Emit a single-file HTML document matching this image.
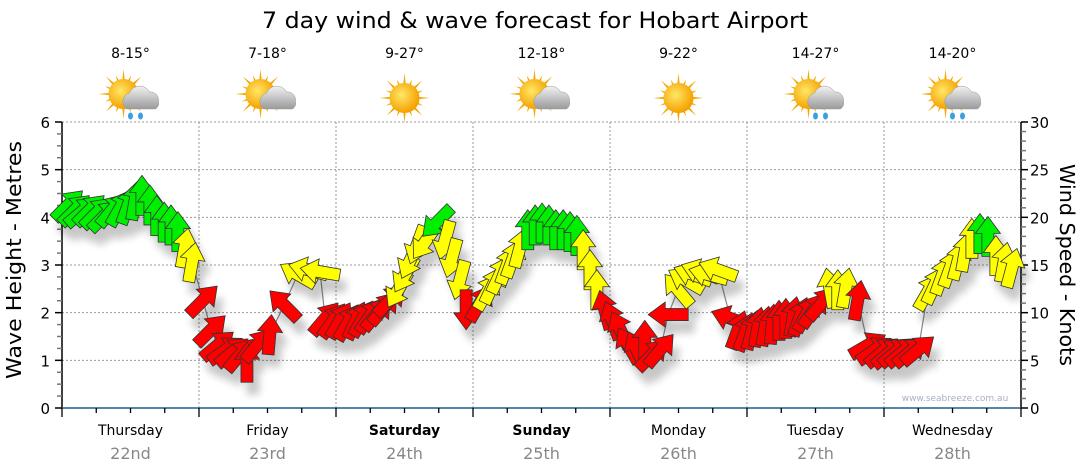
<!DOCTYPE html>
<html><head><meta charset="utf-8">
<style>
html,body{margin:0;padding:0;background:#fff;}
svg{display:block;font-family:"DejaVu Sans","Liberation Sans",Arial,sans-serif;}
</style></head>
<body>
<svg id="chart" width="1080" height="475" viewBox="0 0 1080 475" xmlns="http://www.w3.org/2000/svg">
<defs>
<filter id="sh" x="-50%" y="-50%" width="200%" height="200%">
<feGaussianBlur in="SourceAlpha" stdDeviation="4"/>
<feOffset dx="6" dy="12" result="o"/>
<feComponentTransfer><feFuncA type="linear" slope="0.22"/></feComponentTransfer>
<feMerge><feMergeNode/><feMergeNode in="SourceGraphic"/></feMerge>
</filter>
<radialGradient id="sunG" cx="0.4" cy="0.4" r="0.6"><stop offset="0" stop-color="#ffe866"/><stop offset="1" stop-color="#f5a000"/></radialGradient>
<linearGradient id="cloudG" x1="0" y1="0" x2="0" y2="1"><stop offset="0" stop-color="#f2f2f2"/><stop offset="1" stop-color="#9a9a9a"/></linearGradient>
</defs>
<text x="535" y="28" font-size="22" text-anchor="middle" textLength="546" lengthAdjust="spacingAndGlyphs" fill="#000">7 day wind &amp; wave forecast for Hobart Airport</text>
<g id="grid"></g>
<g id="axes"></g>
<g id="icons"></g>
<g id="series"></g>
<text x="955" y="401" font-size="9" text-anchor="middle" fill="#a8b0c0">www.seabreeze.com.au</text>
<text transform="translate(21,260) rotate(-90)" font-size="20" text-anchor="middle" textLength="238" lengthAdjust="spacingAndGlyphs" fill="#000">Wave Height - Metres</text>
<text transform="translate(1060,265) rotate(90)" font-size="20" text-anchor="middle" textLength="202" lengthAdjust="spacingAndGlyphs" fill="#000">Wind Speed - Knots</text>
</svg>
<script>
const dayNames=["Thursday","Friday","Saturday","Sunday","Monday","Tuesday","Wednesday"];
const dayDates=["22nd","23rd","24th","25th","26th","27th","28th"];
const boldDays=[false,false,true,true,false,false,false];
const tempLabels=["8-15°","7-18°","9-27°","12-18°","9-22°","14-27°","14-20°"];
const iconTypes=["rain","cloud","sun","cloud","sun","rain","rain"];
const waveTicks=[0,1,2,3,4,5,6];
const windTicks=[0,5,10,15,20,25,30];
const windHours=[1.1,2.3,3.5,4.9,6.1,7.5,8.8,10.2,11.6,12.8,14.0,15.4,16.6,17.9,19.1,20.3,21.5,22.8,
24.7,26.1,27.3,28.7,29.9,31.2,32.4,34.2,36.4,38.9,41.3,43.1,45.2,
46.1,47.5,48.7,50.1,51.5,52.7,54.0,55.2,56.4,57.5,58.9,60.1,61.0,62.2,63.6,65.7,67.1,68.3,69.7,70.8,
73.2,74.5,75.5,76.7,78.0,79.0,80.2,81.6,82.9,84.1,85.3,86.5,87.8,89.0,90.2,91.3,92.5,93.7,
95.1,96.4,97.8,99.2,100.7,102.1,103.4,104.8,106.2,107.9,109.3,110.5,111.8,113.2,114.9,117.1,
118.4,119.7,120.9,121.9,123.2,124.4,125.6,126.8,128.1,129.3,130.5,131.7,133.1,134.5,135.9,137.3,139.4,
141.2,142.4,143.7,144.9,146.1,147.3,148.6,150.0,151.7,152.9,154.2,155.6,157.0,158.2,159.4,160.8,162.2,163.6,165.0,166.4];
const windSpeeds=[21.3,20.8,20.6,20.8,20.5,20.2,20.8,21.0,21.3,21.8,22.3,21.3,20.2,19.5,19.2,18.5,16.8,15.3,
11.3,8.2,6.6,6.1,5.9,5.6,4.8,6.6,7.7,10.8,14.0,14.5,14.3,
9.4,9.2,9.2,9.0,9.2,9.4,9.7,9.9,10.5,11.3,12.4,14.0,15.5,17.1,17.4,19.5,17.6,15.7,13.4,10.3,
11.0,12.2,12.9,14.0,15.0,15.7,16.8,18.7,19.2,19.4,19.2,18.7,18.7,18.5,18.1,16.6,14.5,12.4,
10.3,9.2,8.2,6.6,6.1,7.1,5.6,6.1,9.8,12.4,13.4,14.0,14.3,14.0,14.5,9.4,
8.2,8.0,8.2,8.5,8.6,8.8,9.2,9.4,9.6,9.6,9.9,10.3,11.0,12.6,12.4,12.6,11.3,
6.6,6.1,5.9,5.8,5.9,5.9,5.9,6.1,12.2,12.9,13.9,14.7,15.5,16.4,17.8,18.3,18.0,16.0,15.3,14.7];
const windDirs=[45,45,50,45,45,45,40,30,20,10,0,0,0,0,0,0,10,10,
45,45,50,55,50,40,0,40,5,-45,-60,-75,-80,
40,35,30,30,25,30,35,40,40,45,210,210,205,200,215,225,195,195,195,180,
30,30,25,25,20,20,15,0,0,0,0,0,0,0,0,0,0,0,
-15,-20,-25,-30,-25,0,45,40,-90,-40,-60,-70,-70,-75,-70,-70,
20,20,15,10,10,5,0,0,10,20,30,35,40,-10,0,10,10,
60,55,50,50,50,50,50,50,30,25,20,20,15,10,0,0,0,0,10,15];

const X0=62,X1=1021,Y0=408,Y1=122;
const NS="http://www.w3.org/2000/svg";
const xH=h=>X0+h*(X1-X0)/168;
const yM=m=>Y0-m*(Y0-Y1)/6;
const yK=k=>Y0-k*(Y0-Y1)/30;
function mk(tag,attrs,parent){const e=document.createElementNS(NS,tag);for(const k in attrs)e.setAttribute(k,attrs[k]);parent.appendChild(e);return e;}
const grid=document.getElementById('grid'),axes=document.getElementById('axes'),icons=document.getElementById('icons'),series=document.getElementById('series');

waveTicks.forEach(m=>{if(m===0)return;
 const l=mk('line',{x1:X0,x2:X1,y1:yM(m),y2:yM(m),stroke:'#999','stroke-width':1,'stroke-dasharray':'2,2'},grid);
 
 
});
for(let d=1;d<7;d++){
 const l=mk('line',{x1:xH(d*24),x2:xH(d*24),y1:Y1,y2:Y0,stroke:'#999','stroke-width':1,'stroke-dasharray':'2,2'},grid);
 
 
}
let a=mk('line',{x1:X0,x2:X0,y1:Y1,y2:Y0,stroke:'#000','stroke-width':1.5},axes);


for(let i=0;i<=24;i++){const y=yM(i/4);mk('line',{x1:X0-(i%4?5:7),x2:X0,y1:y,y2:y,stroke:i%4?'#777':'#000','stroke-width':1.5},axes);}
waveTicks.forEach(m=>{const t=mk('text',{x:X0-12,y:yM(m)+6,'font-size':15,'text-anchor':'end',fill:'#000'},axes);t.textContent=m;
 
 });
a=mk('line',{x1:X1,x2:X1,y1:Y1,y2:Y0,stroke:'#000','stroke-width':1.5},axes);


for(let i=0;i<=30;i++){const y=yK(i);mk('line',{x1:X1,x2:X1+(i%5?5:7),y1:y,y2:y,stroke:i%5?'#777':'#000','stroke-width':1.5},axes);}
windTicks.forEach(k=>{const t=mk('text',{x:X1+9,y:yK(k)+6,'font-size':15,fill:'#000'},axes);t.textContent=k;
 
 });
a=mk('line',{x1:X0,x2:X1,y1:Y0,y2:Y0,stroke:'#1f5f8a','stroke-width':1.5},axes);


for(let h=0;h<=168;h+=6){const x=xH(h);mk('line',{x1:x,x2:x,y1:Y0,y2:Y0+(h%24?5:9),stroke:'#000','stroke-width':1.3},axes);}
dayNames.forEach((n,i)=>{const cx=xH(i*24+12);
 const t=mk('text',{x:cx,y:435,'font-size':14,'text-anchor':'middle',fill:'#000','font-weight':boldDays[i]?'bold':'normal'},axes);t.textContent=n;
 
 
 const d=mk('text',{x:cx,y:459,'font-size':16,'text-anchor':'middle',fill:'#888'},axes);d.textContent=dayDates[i];
 
 
 const tl=mk('text',{x:cx,y:58,'font-size':14,'text-anchor':'middle',fill:'#000'},icons);tl.textContent=tempLabels[i];
 
 
 const g=mk('g',{transform:`translate(${cx},98)`},icons);
 
 
 const sx=iconTypes[i]==='sun'?0:-7, sy=iconTypes[i]==='sun'?0:-4;
 for(let r=0;r<16;r++){const ang=r*Math.PI/8,L=(r%2?20:25);
  mk('polygon',{points:`${sx+Math.cos(ang-0.12)*12},${sy+Math.sin(ang-0.12)*12} ${sx+Math.cos(ang)*L},${sy+Math.sin(ang)*L} ${sx+Math.cos(ang+0.12)*12},${sy+Math.sin(ang+0.12)*12}`,fill:'#f2a800'},g);}
 mk('circle',{cx:sx,cy:sy,r:15,fill:'url(#sunG)'},g);
 if(iconTypes[i]!=='sun'){
  mk('path',{d:'M-4,11 a9,9 0 0 1 3,-16 a11,11 0 0 1 20,-1 a8,8 0 0 1 9,9 a7,7 0 0 1 -3,8 z',fill:'url(#cloudG)',stroke:'#999','stroke-width':0.5},g);
 }
 if(iconTypes[i]==='rain'){
  mk('ellipse',{cx:0,cy:18,rx:2.5,ry:3.5,fill:'#3aa0e0'},g);
  mk('ellipse',{cx:10,cy:18,rx:2.5,ry:3.5,fill:'#3aa0e0'},g);
 }
});
let pts=windHours.map((h,i)=>xH(h)+','+yK(windSpeeds[i])).join(' ');
const pl=mk('polyline',{points:pts,fill:'none',stroke:'#888','stroke-width':1.2},series);


const ag=mk('g',{filter:'url(#sh)'},series);
const arrowPath='M0,-20 L12.5,-3 L6,-3 L6,20 L-6,20 L-6,-3 L-12.5,-3 Z';
windHours.forEach((h,i)=>{const k=windSpeeds[i];
 const col=k>=18?'#00ee00':(k>=12?'#ffff00':'#ff0000');
 const p=mk('path',{d:arrowPath,fill:col,stroke:'#333','stroke-width':0.8,transform:`translate(${xH(h)},${yK(k)}) rotate(${windDirs[i]})`},ag);
 
 
});
</script>
</body></html>
